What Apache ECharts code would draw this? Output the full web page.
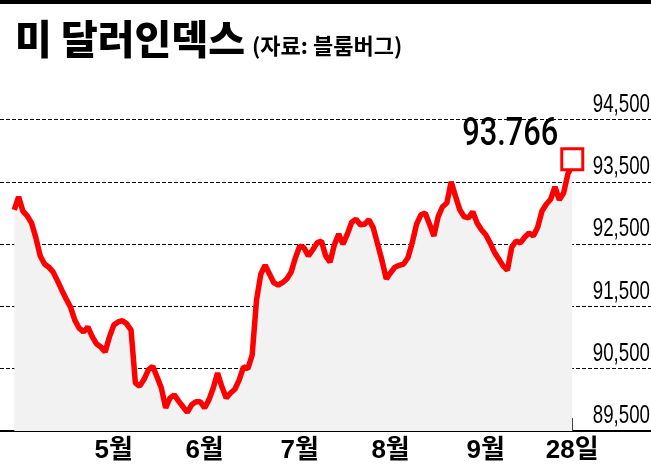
<!DOCTYPE html>
<html>
<head>
<meta charset="utf-8">
<script src="https://cdn.jsdelivr.net/npm/echarts@6/dist/echarts.min.js"></script>
<style>html,body{margin:0;padding:0;background:#fff}#c{width:651px;height:464px}</style>
</head>
<body>
<div id="c"></div>
<script>
// Trading-day index (0 = 31 Mar 2021) and US dollar index closes
const dxy = [
  93.05, 93.26, 93.03, 92.95, 92.84, 92.60, 92.31, 92.18, 92.13, 92.05,
  91.91, 91.76, 91.62, 91.49, 91.28, 91.15, 91.09, 91.17, 91.02, 90.90,
  90.85, 90.77, 91.01, 91.20, 91.25, 91.27, 91.22, 91.12, 90.27, 90.22,
  90.33, 90.48, 90.54, 90.37, 90.19, 89.87, 90.03, 90.08, 89.98, 89.89,
  89.80, 89.92, 89.97, 89.97, 89.87, 90.00, 90.19, 90.43, 90.21, 90.03,
  90.11, 90.17, 90.32, 90.53, 90.50, 90.72, 91.60, 92.02, 92.16, 92.02,
  91.88, 91.84, 91.88, 91.94, 92.05, 92.28, 92.47, 92.44, 92.31, 92.41,
  92.52, 92.55, 92.31, 92.21, 92.49, 92.66, 92.50, 92.66, 92.85, 92.90,
  92.81, 92.82, 92.89, 92.76, 92.50, 92.24, 91.94, 92.04, 92.13, 92.16,
  92.18, 92.28, 92.52, 92.82, 92.97, 93.00, 92.82, 92.63, 92.94, 93.10,
  93.16, 93.50, 93.27, 93.05, 92.94, 92.92, 93.02, 92.84, 92.73, 92.65,
  92.52, 92.37, 92.26, 92.15, 92.08, 92.45, 92.55, 92.52, 92.61, 92.68,
  92.63, 92.77, 93.03, 93.14, 93.22, 93.42, 93.21, 93.32, 93.63, 93.766
];
const monthTickIdx = [23, 44, 66, 87, 109, 129];
const monthTickLabels = ['5월', '6월', '7월', '8월', '9월', '28일'];
const yTicks = [89.5, 90.5, 91.5, 92.5, 93.5, 94.5];
const yTickLabels = ['89,500', '90,500', '91,500', '92,500', '93,500', '94,500'];

const titleText = '미 달러인덱스';
const sourceText = '(자료: 블룸버그)';

const mixed = "'Liberation Sans', 'Noto Sans CJK KR', sans-serif";

const lastIdx = dxy.length - 1;
const seriesData = dxy.map((v, i) => {
  if (i !== lastIdx) return [i, v];
  return {
    value: [i, v],
    symbol: 'rect',
    symbolSize: 21,
    symbolOffset: [0, -6],
    itemStyle: { color: '#ffffff', borderColor: '#ff0000', borderWidth: 3 }
  };
});

const topBar = { id: 'topbar', type: 'rect', left: 0, top: 0, shape: { width: 651, height: 4 }, style: { fill: '#000' } };

const chart = echarts.init(document.getElementById('c'), null, { renderer: 'canvas' });
chart.setOption({
  animation: false,
  backgroundColor: '#ffffff',
  title: [
    { text: titleText, left: 10, top: 14,
      textStyle: { fontFamily: "'Noto Sans CJK KR', sans-serif", fontWeight: 900, fontSize: 40, color: '#000' } },
    { text: sourceText, left: 247, top: 30,
      textStyle: { fontFamily: "'Noto Sans CJK KR', sans-serif", fontWeight: 'bold', fontSize: 22, color: '#000' } }
  ],
  graphic: [topBar],
  grid: { left: 0, right: 0, top: 119.5, bottom: 33, containLabel: false },
  xAxis: {
    type: 'value',
    min: -3.3,
    max: 147.2,
    splitLine: { show: false },
    axisLine: { show: true, onZero: false, lineStyle: { color: '#000', width: 2 } },
    axisTick: { show: true, inside: true, length: 13, customValues: monthTickIdx, lineStyle: { color: '#000', width: 1 } },
    axisLabel: {
      show: true,
      customValues: monthTickIdx,
      margin: 7,
      formatter: v => monthTickLabels[monthTickIdx.indexOf(Math.round(v))] || '',
      fontFamily: mixed,
      fontSize: 26,
      fontWeight: 'bold',
      color: '#000'
    }
  },
  yAxis: {
    type: 'value',
    position: 'right',
    min: yTicks[0],
    max: yTicks[yTicks.length - 1],
    interval: 1,
    axisLine: { show: false },
    axisTick: { show: false },
    axisLabel: { show: false },
    splitLine: { show: true, lineStyle: { color: '#000', width: 1, type: [4, 2] } }
  },
  series: [{
    type: 'line',
    data: seriesData,
    symbol: 'none',
    smooth: false,
    clip: false,
    lineStyle: { color: '#ff0000', width: 5.5 },
    areaStyle: { color: '#f2f2f2', opacity: 1, origin: 'start' },
    z: 3
  }]
});

// Condensed value labels (tick labels sit just above their gridlines), positioned by the library's scale
const gfx = [topBar];
yTicks.forEach((t, k) => {
  const py = chart.convertToPixel({ yAxisIndex: 0 }, t);
  gfx.push({
    id: 'ylab' + k,
    type: 'text',
    x: 650,
    y: py - 14.8,
    scaleX: 0.72,
    z: 10,
    style: {
      text: yTickLabels[k],
      x: 0, y: 0,
      align: 'right',
      verticalAlign: 'middle',
      font: "26px 'Liberation Sans', Arial, sans-serif",
      fill: '#000'
    }
  });
});
const lastPt = chart.convertToPixel({ gridIndex: 0 }, [lastIdx, dxy[lastIdx]]);
gfx.push({
  id: 'lastLabel',
  type: 'text',
  x: lastPt[0] - 14,
  y: lastPt[1] - 30,
  scaleX: 0.79,
  z: 10,
  style: {
    text: dxy[lastIdx].toFixed(3),
    x: 0, y: 0,
    align: 'right',
    verticalAlign: 'middle',
    font: "500 39px Roboto, 'Liberation Sans', Arial, sans-serif",
    fill: '#000'
  }
});
chart.setOption({ graphic: gfx });
</script>
</body>
</html>
